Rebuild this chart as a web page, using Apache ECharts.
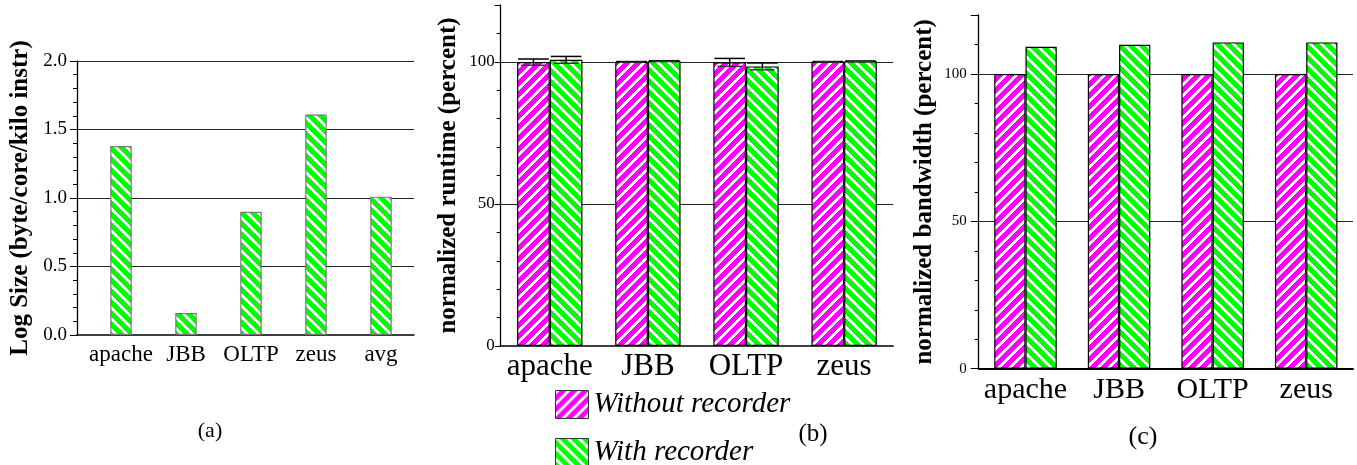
<!DOCTYPE html>
<html>
<head>
<meta charset="utf-8">
<script src="https://cdn.jsdelivr.net/npm/echarts@6/dist/echarts.min.js"></script>
<style>
html,body{margin:0;padding:0;background:#fff;}
#main{width:1357px;height:465px;}
</style>
</head>
<body>
<div id="main"></div>
<script>
// ---------- data ----------
const catsA = ['apache', 'JBB', 'OLTP', 'zeus', 'avg'];
const logSize = [1.38, 0.16, 0.90, 1.61, 1.01];

const cats = ['apache', 'JBB', 'OLTP', 'zeus'];
const runtimeWithout = [99.9, 100.0, 99.8, 100.0];
const runtimeWithoutErr = [1.1, 0.1, 1.4, 0.1];
const runtimeWith = [100.7, 100.3, 98.4, 100.2];
const runtimeWithErr = [1.2, 0.1, 1.2, 0.1];

const bandwidthWithout = [100, 100, 100, 100];
const bandwidthWith = [109.2, 109.9, 110.7, 110.7];

const seriesNames = ['Without recorder', 'With recorder'];
const captions = ['(a)', '(b)', '(c)'];
const yNames = ['Log Size (byte/core/kilo instr)', 'normalized runtime (percent)', 'normalized bandwidth (percent)'];

// ---------- patterns (crisp pixel stripes) ----------
function stripes(rgb, dir) {
  const s = 11, w = 4;
  const c = document.createElement('canvas');
  c.width = s; c.height = s;
  const g = c.getContext('2d');
  const img = g.createImageData(s, s);
  for (let y = 0; y < s; y++) {
    for (let x = 0; x < s; x++) {
      const k = dir === '/' ? (x + y) % s : ((x - y) % s + s) % s;
      const white = k < w;
      const p = (y * s + x) * 4;
      img.data[p] = white ? 255 : rgb[0];
      img.data[p + 1] = white ? 255 : rgb[1];
      img.data[p + 2] = white ? 255 : rgb[2];
      img.data[p + 3] = 255;
    }
  }
  g.putImageData(img, 0, 0);
  return { image: c, repeat: 'repeat' };
}
const magentaPat = stripes([255, 0, 255], '/');
const greenPat = stripes([0, 255, 0], '\\');

const FONT = 'Liberation Serif';
const AXC = '#000';

function errRender(side) {
  return function (params, api) {
    const i = api.value(0);
    const v = api.value(1);
    const e = api.value(2);
    const band = api.size([1, 0])[0];
    const bw = band * 0.333;
    const center = api.coord([i, 0])[0] + side * bw / 2;
    const hi = api.coord([i, v + e])[1];
    const lo = api.coord([i, v - e])[1];
    const half = bw / 2 - 1;
    const st = { stroke: '#000', lineWidth: 1.5 };
    return {
      type: 'group',
      children: [
        { type: 'line', shape: { x1: center, y1: hi, x2: center, y2: lo }, style: st },
        { type: 'line', shape: { x1: center - half, y1: hi, x2: center + half, y2: hi }, style: st },
        { type: 'line', shape: { x1: center - half * 0.8, y1: lo, x2: center + half * 0.8, y2: lo }, style: { stroke: '#333', lineWidth: 1.5 } }
      ]
    };
  };
}

function valueY(gridIndex, min, max, interval, name, labelSize, nameGap, tickLen, labelMargin, showTop, fmt) {
  return {
    type: 'value', gridIndex, min, max, interval,
    name, nameLocation: 'middle', nameGap,
    nameTextStyle: { fontFamily: FONT, fontWeight: 'bold', fontSize: 25, color: '#000' },
    axisLine: { show: true, lineStyle: { color: AXC, width: 1.3 } },
    axisTick: { show: true, length: tickLen, lineStyle: { color: AXC } },
    minorTick: { show: true, splitNumber: 5, length: 4, lineStyle: { color: AXC } },
    axisLabel: { fontFamily: FONT, fontSize: labelSize, color: '#000', margin: labelMargin, showMaxLabel: showTop, formatter: fmt },
    splitLine: { show: true, showMaxLine: showTop, showMinLine: false, lineStyle: { color: '#222', width: 1.2 } }
  };
}

const chart = echarts.init(document.getElementById('main'));
const legendCommon = {
  left: 550,
  itemWidth: 33, itemHeight: 28,
  icon: 'rect',
  itemStyle: { borderColor: '#333', borderWidth: 1 },
  textStyle: { fontFamily: FONT, fontStyle: 'italic', fontSize: 29, color: '#000' }
};
const option = {
  backgroundColor: '#fff',
  animation: false,
  grid: [
    { left: 77, top: 61, width: 337, height: 274 },       // (a) frame
    { left: 88.5, top: 61, width: 325, height: 274 },     // (a) bars
    { left: 500.7, top: 5, width: 392.5, height: 341 },   // (b)
    { left: 978.7, top: 15, width: 374.3, height: 353.7 } // (c)
  ],
  xAxis: [
    { type: 'value', gridIndex: 0, min: 0, max: 1,
      axisLine: { show: true, lineStyle: { color: AXC, width: 1.5 } },
      axisTick: { show: false }, axisLabel: { show: false }, splitLine: { show: false } },
    { type: 'category', gridIndex: 1, data: catsA,
      axisLine: { show: false }, axisTick: { show: false },
      axisLabel: { interval: 0, fontFamily: FONT, fontSize: 23, color: '#000', margin: 8 } },
    { type: 'category', gridIndex: 2, data: cats,
      axisLine: { show: true, lineStyle: { color: AXC, width: 1.5 } }, axisTick: { show: false },
      axisLabel: { interval: 0, fontFamily: FONT, fontSize: 31, color: '#000', margin: 5 } },
    { type: 'category', gridIndex: 3, data: cats,
      axisLine: { show: true, lineStyle: { color: AXC, width: 2 } }, axisTick: { show: false },
      axisLabel: { interval: 0, fontFamily: FONT, fontSize: 30, color: '#000', margin: 6 } }
  ],
  yAxis: [
    valueY(0, 0, 2, 0.5, yNames[0], 19, 44, 7, 10, true, v => v.toFixed(1)),
    { type: 'value', gridIndex: 1, min: 0, max: 2, show: false },
    valueY(2, 0, 120, 50, yNames[1], 17, 40, 6, 6, false),
    valueY(3, 0, 120, 50, yNames[2], 15, 42, 8, 12, false)
  ],
  legend: [
    Object.assign({ top: 385, data: [seriesNames[0]] }, legendCommon),
    Object.assign({ top: 433, data: [seriesNames[1]] }, legendCommon)
  ],
  graphic: [
    { type: 'text', x: 210, y: 431, style: { text: captions[0], font: '22px "Liberation Serif"', fill: '#000', textAlign: 'center', textVerticalAlign: 'middle' } },
    { type: 'text', x: 813, y: 434, style: { text: captions[1], font: '25px "Liberation Serif"', fill: '#000', textAlign: 'center', textVerticalAlign: 'middle' } },
    { type: 'text', x: 1143, y: 437, style: { text: captions[2], font: '26px "Liberation Serif"', fill: '#000', textAlign: 'center', textVerticalAlign: 'middle' } }
  ],
  series: [
    { type: 'bar', name: 'Log Size', xAxisIndex: 1, yAxisIndex: 1, data: logSize, barWidth: '33%',
      itemStyle: { color: greenPat, borderColor: '#777', borderWidth: 1.2 } },

    { type: 'bar', name: seriesNames[0], xAxisIndex: 2, yAxisIndex: 2, data: runtimeWithout, barWidth: '33.3%', barGap: '0%',
      itemStyle: { color: magentaPat, borderColor: '#000', borderWidth: 1.2 } },
    { type: 'bar', name: seriesNames[1], xAxisIndex: 2, yAxisIndex: 2, data: runtimeWith, barWidth: '33.3%', barGap: '0%',
      itemStyle: { color: greenPat, borderColor: '#000', borderWidth: 1.2 } },
    { type: 'custom', xAxisIndex: 2, yAxisIndex: 2, z: 5,
      data: runtimeWithout.map((v, i) => [i, v, runtimeWithoutErr[i]]),
      renderItem: errRender(-1) },
    { type: 'custom', xAxisIndex: 2, yAxisIndex: 2, z: 5,
      data: runtimeWith.map((v, i) => [i, v, runtimeWithErr[i]]),
      renderItem: errRender(1) },

    { type: 'bar', name: seriesNames[0], xAxisIndex: 3, yAxisIndex: 3, data: bandwidthWithout, barWidth: '33.4%', barGap: '0%',
      itemStyle: { color: magentaPat, borderColor: '#000', borderWidth: 1.2 } },
    { type: 'bar', name: seriesNames[1], xAxisIndex: 3, yAxisIndex: 3, data: bandwidthWith, barWidth: '33.4%', barGap: '0%',
      itemStyle: { color: greenPat, borderColor: '#000', borderWidth: 1.2 } }
  ]
};
chart.setOption(option);
</script>
</body>
</html>
